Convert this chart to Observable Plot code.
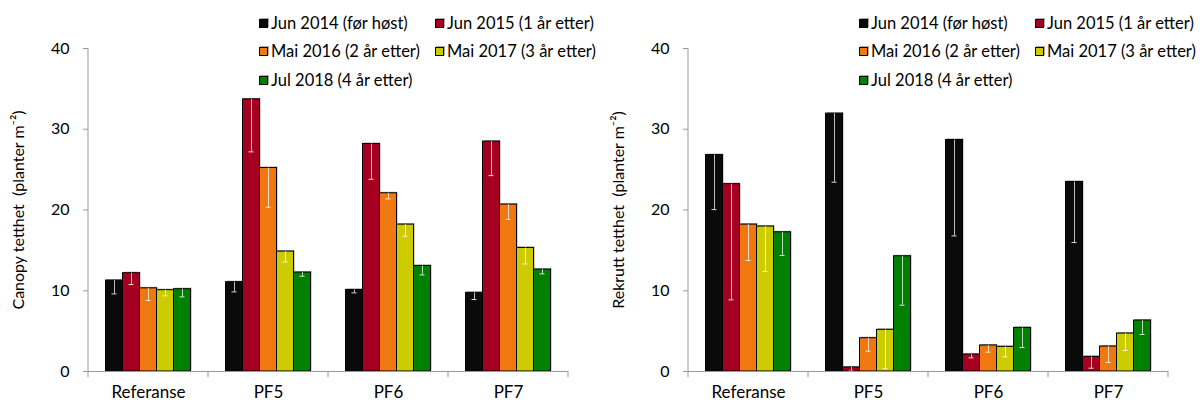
<!DOCTYPE html>
<html>
<head>
<meta charset="utf-8">
<script src="https://cdn.jsdelivr.net/npm/d3@7"></script>
<script src="https://cdn.jsdelivr.net/npm/@observablehq/plot@0.6"></script>
<style>
  html, body { margin: 0; padding: 0; background: #fff; }
  #wrap { display: flex; width: 1203px; height: 403px; font-family: Lato, sans-serif; }
  .panel { position: relative; width: 600px; height: 403px; }
  .panel svg { display: block; }
  .legend { position: absolute; left: 0; top: 0; width: 600px; height: 100px; pointer-events: none; }
  .item { position: absolute; display: flex; align-items: center; font-size: 16.5px; color: #000; white-space: nowrap; line-height: 1; }
  .sw { width: 7px; height: 7px; border: 1px solid #000; margin-right: 3px; box-shadow: 1px -1px 0 #aaa; }
</style>
</head>
<body>
<div id="wrap"></div>
<script>
// ---- data ----
const categories = ["Referanse", "PF5", "PF6", "PF7"];
const series = ["Jun 2014 (før høst)", "Jun 2015 (1 år etter)", "Mai 2016 (2 år etter)", "Mai 2017 (3 år etter)", "Jul 2018 (4 år etter)"];
const colors = ["#0a0a0a", "#a50021", "#f07810", "#cccc00", "#008000"];
const yTicks = [0, 10, 20, 30, 40];

// Canopy tetthet (planter m-2), per series, across categories
const canopy2014 = [11.26, 11.06, 10.10, 9.74];
const canopy2015 = [12.17, 33.70, 28.17, 28.47];
const canopy2016 = [10.30, 25.20, 22.07, 20.67];
const canopy2017 = [10.07, 14.85, 18.19, 15.30];
const canopy2018 = [10.19, 12.25, 13.07, 12.62];
// error (shown downwards)
const canopyErr2014 = [1.65, 1.20, 0.36, 0.83];
const canopyErr2015 = [1.40, 6.50, 4.37, 4.21];
const canopyErr2016 = [1.51, 4.85, 0.70, 1.82];
const canopyErr2017 = [0.70, 1.28, 1.44, 1.98];
const canopyErr2018 = [0.95, 0.45, 1.11, 0.53];

// Rekrutt tetthet (planter m-2)
const rekrutt2014 = [26.80, 31.93, 28.67, 23.47];
const rekrutt2015 = [23.20, 0.50, 2.10, 1.81];
const rekrutt2016 = [18.19, 4.12, 3.22, 3.09];
const rekrutt2017 = [17.95, 5.16, 3.05, 4.70];
const rekrutt2018 = [17.24, 14.27, 5.40, 6.31];
const rekruttErr2014 = [6.75, 8.49, 11.88, 7.50];
const rekruttErr2015 = [14.33, 0.45, 0.41, 1.40];
const rekruttErr2016 = [4.45, 1.61, 0.83, 1.98];
const rekruttErr2017 = [5.57, 4.83, 1.24, 2.10];
const rekruttErr2018 = [2.88, 6.06, 2.43, 1.73];

const canopyLabel = "Canopy tetthet \u00a0(planter m\u207b\u00b2)";
const rekruttLabel = "Rekrutt tetthet \u00a0(planter m\u207b\u00b2)";

function toRows(valueLists, errLists) {
  const rows = [];
  categories.forEach((cat, i) => {
    series.forEach((s, j) => {
      rows.push({cat, series: s, value: valueLists[j][i], err: errLists[j][i]});
    });
  });
  return rows;
}

const canopyRows = toRows(
  [canopy2014, canopy2015, canopy2016, canopy2017, canopy2018],
  [canopyErr2014, canopyErr2015, canopyErr2016, canopyErr2017, canopyErr2018]);
const rekruttRows = toRows(
  [rekrutt2014, rekrutt2015, rekrutt2016, rekrutt2017, rekrutt2018],
  [rekruttErr2014, rekruttErr2015, rekruttErr2016, rekruttErr2017, rekruttErr2018]);

const AXIS = "#999";

function makeChart(rows, ylabel) {
  const plot = Plot.plot({
    width: 600,
    height: 403,
    marginLeft: 86.5,
    marginRight: 31,
    marginTop: 48,
    marginBottom: 32,
    style: {fontFamily: "Lato, sans-serif", fontSize: "16px", color: "#000", background: "#fff", overflow: "visible"},
    fx: {domain: categories, padding: 0, label: null, axis: null},
    x: {domain: series, paddingInner: 0, paddingOuter: 0.85, axis: null},
    y: {domain: [0, 40], axis: null},
    color: {domain: series, range: colors},
    marks: [
      Plot.axisY({ticks: yTicks, tickSize: 5, tickPadding: 14, stroke: AXIS, fill: "#000",
        label: ylabel, labelAnchor: "center", labelArrow: "none", labelOffset: 76, fontSize: 16}),
      Plot.axisFx({anchor: "bottom", tickSize: 0, tickPadding: 14, label: null, fontSize: 17, fill: "#000"}),
      Plot.barY(rows, {fx: "cat", x: "series", y: "value", fill: "#a6a6a6", dx: 1, dy: -1}),
      Plot.barY(rows, {fx: "cat", x: "series", y: "value", fill: "series", stroke: "#000", strokeWidth: 1}),
      Plot.ruleX(rows, {fx: "cat", x: "series", y1: "value", y2: d => d.value - d.err, stroke: "#fff", strokeOpacity: 0.72}),
      Plot.tickY(rows, {fx: "cat", x: "series", y: d => d.value - d.err, stroke: "#fff", strokeOpacity: 0.85, inset: 6}),
      Plot.ruleY([0], {stroke: AXIS})
    ]
  });
  // axis line and category boundary ticks, positioned with Plot's own scales
  const fx = plot.scale("fx");
  const y = plot.scale("y");
  const y0 = y.apply(0), yTop = y.apply(40);
  const g = d3.select(plot).append("g").attr("stroke", AXIS).attr("stroke-width", 1);
  const left = fx.apply(categories[0]);
  g.append("line").attr("x1", left).attr("x2", left).attr("y1", yTop).attr("y2", y0 + 6);
  categories.forEach(c => {
    const xe = fx.apply(c) + fx.bandwidth;
    g.append("line").attr("x1", xe).attr("x2", xe).attr("y1", y0).attr("y2", y0 + 6);
  });
  return plot;
}

function makeLegend() {
  const leg = document.createElement("div");
  leg.className = "legend";
  const colX = [259, 435];
  const rowY = [23, 51.5, 80];
  series.forEach((s, i) => {
    const it = document.createElement("div");
    it.className = "item";
    it.style.left = colX[i % 2] + "px";
    it.style.top = (rowY[Math.floor(i / 2)] - 9) + "px";
    it.style.height = "18px";
    const sw = document.createElement("span");
    sw.className = "sw";
    sw.style.background = colors[i];
    const tx = document.createElement("span");
    tx.textContent = s;
    it.appendChild(sw);
    it.appendChild(tx);
    leg.appendChild(it);
  });
  return leg;
}

const wrap = document.getElementById("wrap");
[[canopyRows, canopyLabel], [rekruttRows, rekruttLabel]].forEach(([rows, label]) => {
  const panel = document.createElement("div");
  panel.className = "panel";
  panel.appendChild(makeChart(rows, label));
  panel.appendChild(makeLegend());
  wrap.appendChild(panel);
});
</script>
</body>
</html>
